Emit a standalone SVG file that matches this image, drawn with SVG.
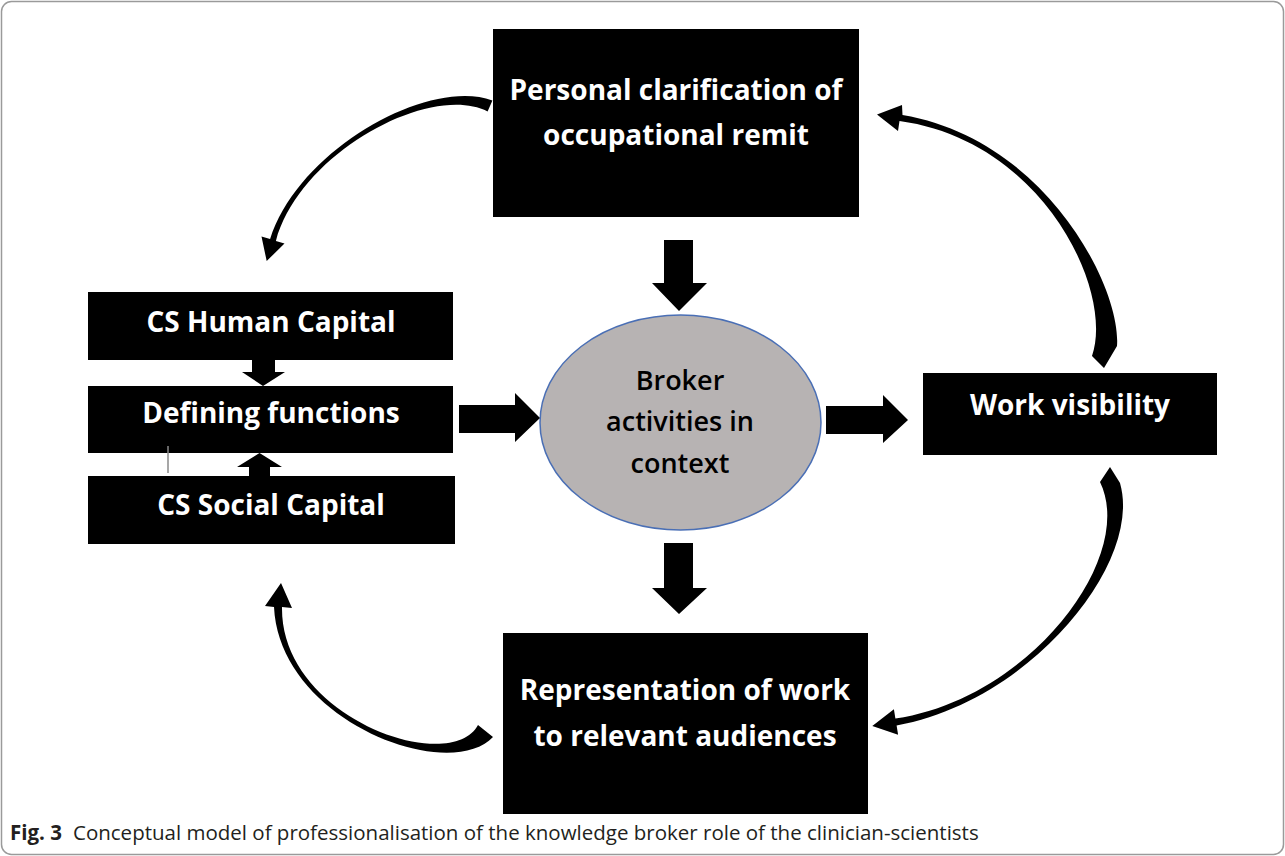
<svg xmlns="http://www.w3.org/2000/svg" width="1285" height="856" viewBox="0 0 1285 856">
<style>
.box{fill:#000;}
.bt{font-family:"Open Sans","Liberation Sans",sans-serif;font-weight:700;font-size:28px;fill:#fff;text-anchor:middle;}
.et{font-family:"Open Sans","Liberation Sans",sans-serif;font-weight:600;font-size:27px;fill:#000;text-anchor:middle;}
.arr{fill:#000;}
.cap{font-family:"Open Sans","Liberation Sans",sans-serif;font-size:20.5px;fill:#231f20;}
</style>
<rect x="1.5" y="1.5" width="1282" height="853" rx="10" fill="#fff" stroke="#9a9a9a" stroke-width="1.5"/>

<g id="node-personal">
<rect class="box" x="493" y="29" width="366" height="188"/>
<text class="bt" x="676" y="100">Personal clarification of</text>
<text class="bt" x="676" y="145">occupational remit</text>
</g>

<g id="node-human">
<rect class="box" x="88" y="292" width="365" height="68"/>
<text class="bt" x="271" y="332">CS Human Capital</text>
</g>

<g id="node-defining">
<rect class="box" x="88" y="386" width="365" height="67"/>
<text class="bt" x="271" y="423">Defining functions</text>
</g>

<g id="node-social">
<rect class="box" x="88" y="476" width="367" height="68"/>
<text class="bt" x="271" y="515">CS Social Capital</text>
</g>

<g id="node-broker">
<ellipse cx="680.5" cy="422.5" rx="140.5" ry="107.5" fill="#b7b3b3" stroke="#4a6fb5" stroke-width="1.5"/>
<text class="et" x="680" y="390">Broker</text>
<text class="et" x="680" y="431">activities in</text>
<text class="et" x="680" y="473">context</text>
</g>

<g id="node-visibility">
<rect class="box" x="923" y="373" width="294" height="82"/>
<text class="bt" x="1070" y="415">Work visibility</text>
</g>

<g id="node-representation">
<rect class="box" x="503" y="633" width="365" height="181"/>
<text class="bt" x="685" y="700">Representation of work</text>
<text class="bt" x="685" y="746">to relevant audiences</text>
</g>

<g id="connectors">
<polygon class="arr" points="664,240 693,240 693,283 707,283 679,311 652,283 664,283"/>
<polygon class="arr" points="664,543 693,543 693,588 707,588 679,614 652,588 664,588"/>
<polygon class="arr" points="459,405 515,405 515,393 540,418 515,442 515,433 459,433"/>
<polygon class="arr" points="826,406 883,406 883,395 908,420 883,443 883,434 826,434"/>
<polygon class="arr" points="252,360 275,360 275,372 285,372 263,386 242,372 252,372"/>
<polygon class="arr" points="249,476 270,476 270,467 282,467 259.5,453 237,467 249,467"/>
<line x1="168" y1="446" x2="168" y2="473" stroke="#8a8a8a" stroke-width="1.5"/>
<path class="arr" d="M492.4,100.5 C428.6,77.4 299.3,148.7 270.1,239.1 L261.5,236.6 L266.7,261.1 L284.5,243.4 L275.9,240.9 C300.7,151.3 431.4,82.6 487.6,111.5 Z"/>
<path class="arr" d="M1117,346 C1121.6,288.3 1046.3,139.3 902.5,115 L902,105 L877,114.5 L898,131 L899.5,121 C1043.7,140.7 1114.4,291.7 1092,356 L1104,368 Z"/>
<path class="arr" d="M1110,467 L1120,483 C1143.1,562.5 1031.2,700.9 896.6,725.5 L898.1,734.8 L872.3,725.9 L893.9,709.2 L895.4,718.5 C1028.8,699.1 1136.9,557.5 1100,482 Z"/>
<path class="arr" d="M493,737 C448.7,783.8 279.5,721.4 274,607 L265,606 L281,583 L292,608 L282,607 C280.5,718.6 451.3,776.2 478,725 Z"/>
</g>

<text class="cap" x="10" y="840"><tspan font-weight="700">Fig. 3</tspan><tspan dx="11">Conceptual model of professionalisation of the knowledge broker role of the clinician-scientists</tspan></text>
</svg>
